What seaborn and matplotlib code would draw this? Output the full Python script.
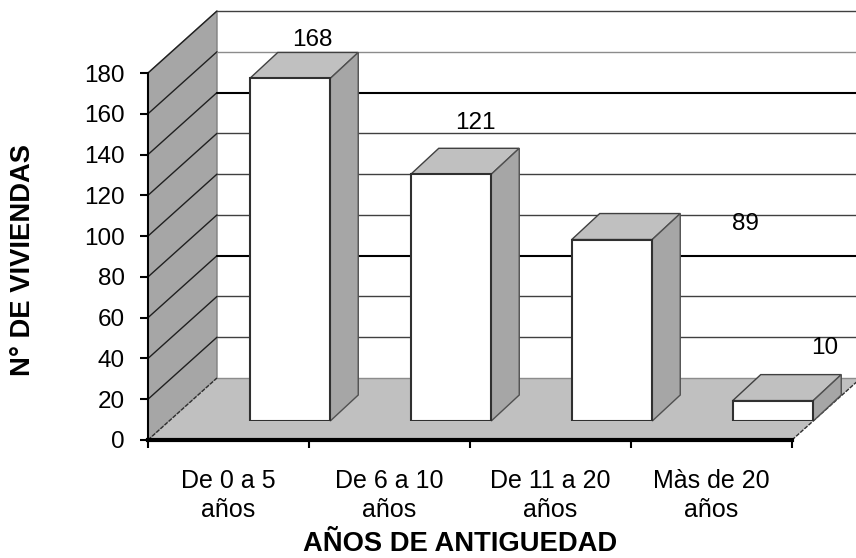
import matplotlib
matplotlib.use("Agg")
import matplotlib.pyplot as plt
from matplotlib.patches import Polygon
import pandas as pd
import seaborn as sns

categorias = ["De 0 a 5\naños", "De 6 a 10\naños", "De 11 a 20\naños", "Màs de 20\naños"]
viviendas = [168, 121, 89, 10]
y_ticks = list(range(0, 200, 20))

W, H = 856, 558
sns.set_theme(style="white")
plt.rcParams["font.family"] = ["Liberation Sans", "DejaVu Sans"]
plt.rcParams["text.color"] = "black"
plt.rcParams["xtick.labelcolor"] = "black"
plt.rcParams["ytick.labelcolor"] = "black"

fig = plt.figure(figsize=(W / 100, H / 100), dpi=100, facecolor="white")

# pixels -> figure fraction
def caja(x0, y0, w, h):
    return [x0 / W, (H - y0) / H, w / W, h / H]

ax = fig.add_axes(caja(148, 440, 644, 367))
ax.patch.set_alpha(0)
ax.set_xlim(-0.5, 3.5)
ax.set_ylim(0, 180)

# depth of the box and of the bars, in data units
px_x = 4 / 644
px_y = 180 / 367
dx, dy = 69 * px_x, 62 * px_y
bx, by = 28 * px_x, 26 * px_y

# side wall and floor
ax.add_patch(Polygon([(-0.5, 0), (-0.5 + dx, dy), (-0.5 + dx, 180 + dy), (-0.5, 180)],
                     fc="#a6a6a6", ec="#808080", lw=1, clip_on=False, zorder=1))
ax.add_patch(Polygon([(-0.5, 0), (3.5, 0), (3.5 + dx, dy), (-0.5 + dx, dy)],
                     fc="#c0c0c0", ec="none", clip_on=False, zorder=1))

# grid on the back wall, running on along the side wall
for t in y_ticks:
    grueso = t in (60, 140)
    col = "black" if grueso else ("#8c8c8c" if t in (0, 160) else "#404040")
    if t > 0:
        ax.plot([-0.5, -0.5 + dx], [t, t + dy], color="#202020", lw=1, clip_on=False, zorder=2)
    ax.plot([-0.5 + dx, 3.5 + dx], [t + dy, t + dy], color=col,
            lw=1.5 if grueso else 1, clip_on=False, zorder=2)
ax.plot([-0.5, -0.5 + dx], [0, dy], color="#303030", lw=1, ls=(0, (3, 1)), clip_on=False, zorder=2)
ax.plot([3.5, 3.5 + dx], [0, dy], color="#303030", lw=1, ls=(0, (3, 1)), clip_on=False, zorder=2)

ax.set_yticks(y_ticks)
ax.set_xticks([-0.5, 0.5, 1.5, 2.5, 3.5])
ax.set_xticklabels([])
ax.set_xticks(range(4), labels=categorias, minor=True)
ax.tick_params(axis="y", which="major", left=True, length=5.8, width=1.5, labelsize=17.5, pad=11, color="black")
ax.tick_params(axis="x", which="major", bottom=True, length=5.8, width=1.5, color="black")
ax.tick_params(axis="x", which="minor", bottom=False, labelsize=18, pad=17)
for lab in ax.get_xticklabels(minor=True):
    lab.set_linespacing(1.25)
sns.despine(ax=ax, top=True, right=True)
ax.spines["left"].set_color("black")
ax.spines["left"].set_linewidth(1.5)
ax.spines["bottom"].set_color("black")
ax.spines["bottom"].set_linewidth(3)
ax.spines["left"].set_zorder(5)
ax.spines["bottom"].set_zorder(5)

fig.text(460 / W, 1 - 541 / H, "AÑOS DE ANTIGUEDAD", fontsize=19.7, fontweight="bold",
         ha="center", va="center_baseline")
fig.text(23 / W, 1 - 260 / H, "N° DE VIVIENDAS", rotation=90, fontsize=19.7, fontweight="bold",
         ha="center", va="center")

# bars stand further back on the floor: same scales, shifted axes
ax_b = fig.add_axes(caja(148 + 61.5, 421, 644, 367))
ax_b.patch.set_alpha(0)
df = pd.DataFrame({"cat": categorias, "n": viviendas})
sns.barplot(data=df, x="cat", y="n", ax=ax_b, color="white", saturation=1, width=0.5,
            edgecolor="#303030", linewidth=1.5, zorder=4)
ax_b.set_xlim(-0.5, 3.5)
ax_b.set_ylim(0, 180)
ax_b.axis("off")

# label offsets from the top centre of each bar, in pixels
offs = [(22, 38), (24, 51), (133, 16), (52, 53)]
for p, v, o in zip(ax_b.patches, viviendas, offs):
    x, w, h = p.get_x(), p.get_width(), p.get_height()
    ax_b.add_patch(Polygon([(x, h), (x + w, h), (x + w + bx, h + by), (x + bx, h + by)],
                           fc="#c0c0c0", ec="#404040", lw=1, clip_on=False, zorder=3))
    ax_b.add_patch(Polygon([(x + w, 0), (x + w + bx, by), (x + w + bx, h + by), (x + w, h)],
                           fc="#a6a6a6", ec="#505050", lw=1, clip_on=False, zorder=3))
    ax_b.annotate(str(v), (x + w / 2, h), xytext=(o[0] * 0.72, o[1] * 0.72),
                  textcoords="offset points", ha="center", va="center", fontsize=17.5,
                  color="black", annotation_clip=False, zorder=6)

fig.savefig("out.png", dpi=100)
